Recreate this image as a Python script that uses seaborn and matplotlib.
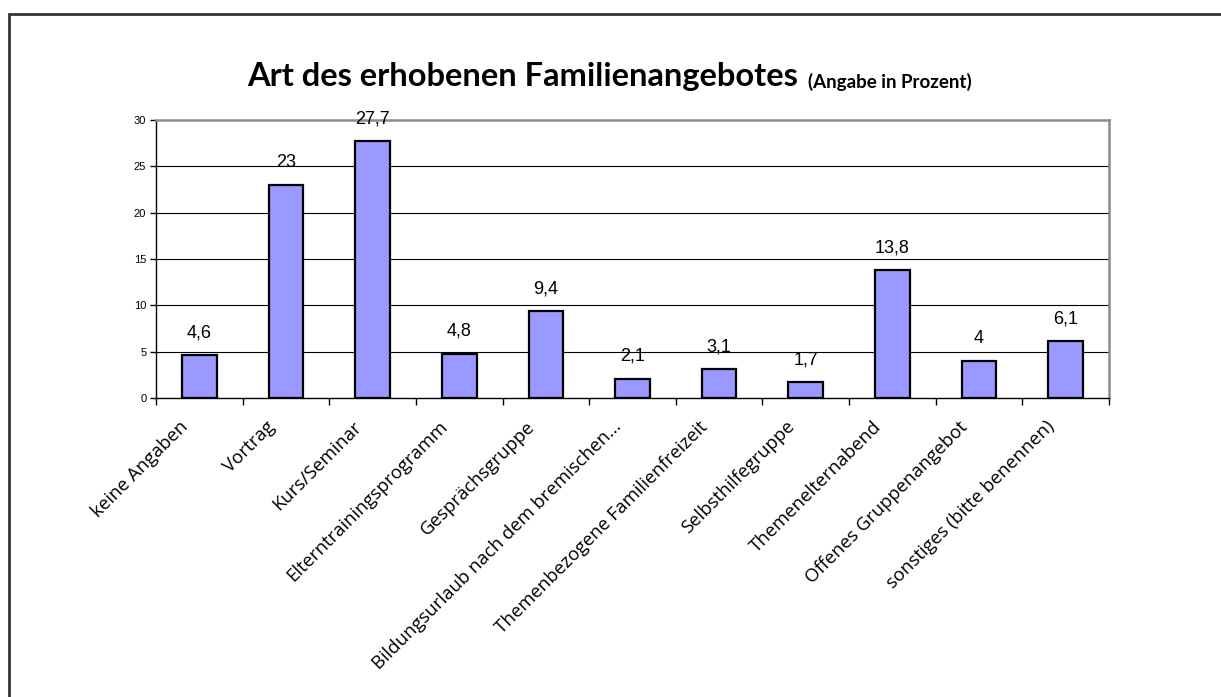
import matplotlib
matplotlib.use("Agg")
import matplotlib.pyplot as plt
import matplotlib.transforms as mtransforms
from matplotlib.patches import Rectangle
import numpy as np
import pandas as pd
import seaborn as sns

categories = [
    "keine Angaben",
    "Vortrag",
    "Kurs/Seminar",
    "Elterntrainingsprogramm",
    "Gesprächsgruppe",
    "Bildungsurlaub nach dem bremischen...",
    "Themenbezogene Familienfreizeit",
    "Selbsthilfegruppe",
    "Themenelternabend",
    "Offenes Gruppenangebot",
    "sonstiges (bitte benennen)",
]
values = [4.6, 23, 27.7, 4.8, 9.4, 2.1, 3.1, 1.7, 13.8, 4, 6.1]
y_ticks = [0, 5, 10, 15, 20, 25, 30]

df = pd.DataFrame({"Angebot": categories, "Prozent": values})

sns.set_theme(style="white")
plt.rcParams["font.family"] = ["Liberation Sans", "DejaVu Sans"]
plt.rcParams.update({"text.color": "black", "axes.labelcolor": "black",
                     "xtick.color": "black", "ytick.color": "black"})

W, H = 1221, 697
fig = plt.figure(figsize=(W / 100, H / 100), dpi=100)
fig.patch.set_facecolor("white")

# plot area in pixel coords of the reference
left, right, top, bottom = 156, 1109, 120, 398
ax = fig.add_axes([left / W, 1 - bottom / H, (right - left) / W, (bottom - top) / H])

sns.barplot(data=df, x="Angebot", y="Prozent", ax=ax, color="#9999FF",
            saturation=1, width=0.4, edgecolor="black", linewidth=1.6)

ax.set_xlim(-0.5, len(categories) - 0.5)
ax.set_ylim(0, 30)
ax.set_yticks(y_ticks)
ax.set_yticklabels([str(t) for t in y_ticks], fontsize=8)
ax.set_xlabel("")
ax.set_ylabel("")

# horizontal gridlines
for t in y_ticks[1:-1]:
    ax.axhline(t, color="black", lw=0.8, zorder=0.5)

for s in ["left", "bottom"]:
    ax.spines[s].set_color("black")
    ax.spines[s].set_linewidth(1.0)
for s in ["top", "right"]:
    ax.spines[s].set_color("#8c8c8c")
    ax.spines[s].set_linewidth(1.8)

ax.tick_params(axis="y", which="major", direction="out", length=4, width=1,
               color="black", left=True, pad=3)

# category boundary ticks
ax.set_xticks(np.arange(-0.5, len(categories)), minor=True)
ax.tick_params(axis="x", which="minor", direction="out", length=5, width=1,
               color="black", bottom=True)
ax.tick_params(axis="x", which="major", length=0, pad=0)
ax.set_xticks(range(len(categories)))
ax.set_xticklabels(categories, rotation=45, ha="right", va="center",
                   rotation_mode="anchor", fontsize=13.3,
                   family=["Open Sans", "DejaVu Sans"])
offset = mtransforms.ScaledTranslation(-14 / 100, -26 / 100, fig.dpi_scale_trans)
for lbl in ax.get_xticklabels():
    lbl.set_transform(lbl.get_transform() + offset)

# value labels with German decimal comma
labels = [f"{v:g}".replace(".", ",") for v in values]
ax.bar_label(ax.containers[0], labels=labels, padding=10, fontsize=13,
             color="black")

# title
t_main = fig.text(247 / W, 1 - 86 / H, "Art des erhobenen Familienangebotes",
                  fontsize=23.5, fontweight="bold", ha="left", va="baseline",
                  color="black", family=["Lato", "DejaVu Sans"])
ax.annotate("(Angabe in Prozent)", xy=(1, 0), xycoords=t_main,
            xytext=(7, 0), textcoords="offset points", ha="left", va="bottom",
            fontsize=13.5, fontweight="bold", color="black",
            family=["Lato", "DejaVu Sans"], annotation_clip=False)

# outer frame (only left and top edges visible in the crop)
fig.patches.append(Rectangle((9 / W, -0.2), 1.2, (1 - 14 / H) + 0.2,
                             transform=fig.transFigure, fill=False,
                             edgecolor="#333333", lw=2))

fig.savefig("out.png", dpi=100, facecolor="white")
